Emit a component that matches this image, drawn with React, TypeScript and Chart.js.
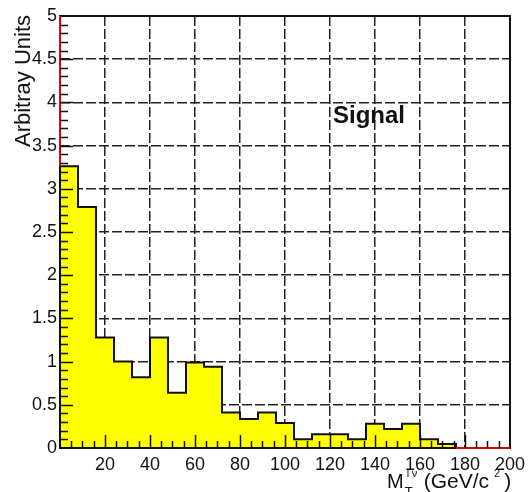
import React, { useEffect, useRef } from "react";
import { Chart, registerables } from "chart.js";

Chart.register(...registerables);

// Histogram bins (lower edges, GeV/c^2), bin width 8
const binLowEdges: number[] = [0, 8, 16, 24, 32, 40, 48, 56, 64, 72, 80, 88, 96, 104, 112, 120, 128, 136, 144, 152, 160, 168, 176, 184, 192];
const binUpperLimit = 200;
// Signal contents (arbitrary units)
const signalValues: number[] = [3.26, 2.79, 1.28, 1.0, 0.82, 1.28, 0.64, 0.99, 0.94, 0.41, 0.335, 0.41, 0.29, 0.1, 0.16, 0.16, 0.1, 0.28, 0.22, 0.28, 0.1, 0.045, 0, 0, 0];

const xMin = 0;
const xMax = 200;
const xMajorStep = 20;
const xMinorStep = 5;
const yMin = 0;
const yMax = 5;
const yMajorStep = 0.5;
const yMinorStep = 0.1;

const yTitle = "Arbitray Units";
const labelText = "Signal";

const FONT = "'Liberation Sans', Arial, Helvetica, sans-serif";
const TEXT = "#111";

export default function App() {
  const ref = useRef<HTMLCanvasElement | null>(null);

  useEffect(() => {
    const canvas = ref.current;
    if (!canvas) return;

    const points = binLowEdges.map((x, i) => ({ x, y: signalValues[i] }));
    points.push({ x: binUpperLimit, y: signalValues[signalValues.length - 1] });

    const overlay = {
      id: "rootStyle",
      afterDraw(chart: any) {
        const { ctx, chartArea } = chart;
        const xs = chart.scales.x;
        const ys = chart.scales.y;
        const { left, right, top, bottom } = chartArea;
        ctx.save();

        // frame
        ctx.strokeStyle = "#111";
        ctx.lineWidth = 2;
        ctx.setLineDash([]);
        ctx.strokeRect(left, top, right - left, bottom - top);

        // red parts (empty histogram outline)
        ctx.strokeStyle = "#e00000";
        ctx.lineWidth = 2;
        ctx.beginPath();
        ctx.moveTo(left, top);
        ctx.lineTo(left, ys.getPixelForValue(signalValues[0]));
        ctx.stroke();
        let firstEmpty = -1;
        for (let i = signalValues.length - 1; i >= 0; i--) {
          if (signalValues[i] === 0) firstEmpty = i; else break;
        }
        if (firstEmpty >= 0) {
          ctx.beginPath();
          ctx.moveTo(xs.getPixelForValue(binLowEdges[firstEmpty]), bottom);
          ctx.lineTo(right, bottom);
          ctx.stroke();
        }

        // inside ticks
        ctx.strokeStyle = "#111";
        ctx.lineWidth = 1.5;
        ctx.beginPath();
        const nY = Math.round((yMax - yMin) / yMinorStep);
        for (let i = 1; i < nY; i++) {
          const v = yMin + i * yMinorStep;
          const py = Math.round(ys.getPixelForValue(v)) + 0.5;
          const major = i % Math.round(yMajorStep / yMinorStep) === 0;
          ctx.moveTo(left, py);
          ctx.lineTo(left + (major ? 13 : 8), py);
        }
        const nX = Math.round((xMax - xMin) / xMinorStep);
        for (let i = 1; i < nX; i++) {
          const v = xMin + i * xMinorStep;
          const px = Math.round(xs.getPixelForValue(v)) + 0.5;
          const major = i % Math.round(xMajorStep / xMinorStep) === 0;
          ctx.moveTo(px, bottom);
          ctx.lineTo(px, bottom - (major ? 13 : 7));
        }
        ctx.stroke();

        // y title
        ctx.fillStyle = TEXT;
        ctx.font = `22px ${FONT}`;
        ctx.save();
        ctx.translate(30, 147);
        ctx.rotate(-Math.PI / 2);
        ctx.textAlign = "left";
        ctx.textBaseline = "alphabetic";
        ctx.fillText(yTitle, 0, 0);
        ctx.restore();

        // x title  M_T^{l nu} (GeV/c^2)
        ctx.textAlign = "left";
        ctx.textBaseline = "alphabetic";
        const base = 488;
        let x = 387;
        ctx.font = `20px ${FONT}`;
        ctx.fillText("M", x, base);
        x += ctx.measureText("M").width + 1;
        ctx.font = `13px ${FONT}`;
        ctx.fillText("T", x, base + 8);
        ctx.font = `11px ${FONT}`;
        ctx.fillText("l", x + 2, base - 11);
        ctx.fillText("\u03bd", x + 7, base - 11);
        x += 19;
        ctx.font = `21px ${FONT}`;
        ctx.fillText("(GeV/c", x, base);
        x += ctx.measureText("(GeV/c").width + 5;
        ctx.font = `11px ${FONT}`;
        ctx.fillText("2", x, base - 11);
        x += ctx.measureText("2").width + 4;
        ctx.font = `21px ${FONT}`;
        ctx.fillText(")", x, base);

        // Signal label
        ctx.font = `bold 24px ${FONT}`;
        ctx.fillStyle = "#111";
        ctx.fillText(labelText, 333, 123);

        ctx.restore();
      },
    };

    const chart = new Chart(canvas, {
      type: "line",
      data: {
        datasets: [
          {
            data: points,
            stepped: "before",
            fill: "origin",
            backgroundColor: "#ffff00",
            borderColor: "#111",
            borderWidth: 2,
            pointRadius: 0,
            segment: {
              borderColor: (c: any) =>
                c.p0.parsed.y === 0 && c.p1.parsed.y === 0 ? "#e00000" : "#111",
            },
          } as any,
        ],
      },
      options: {
        animation: false,
        responsive: false,
        devicePixelRatio: 1,
        layout: { padding: { top: 16, right: 16, left: 0, bottom: 0 } },
        plugins: { legend: { display: false }, tooltip: { enabled: false } },
        scales: {
          x: {
            type: "linear",
            min: xMin,
            max: xMax,
            z: 1,
            afterFit: (s: any) => {
              s.height = 44;
            },
            ticks: {
              stepSize: xMajorStep,
              autoSkip: false,
              maxRotation: 0,
              padding: 6,
              color: TEXT,
              font: { size: 18, family: FONT },
              callback: (v: any) => (Number(v) === 0 ? "" : String(v)),
            },
            grid: { color: "#222", lineWidth: 1.5, drawTicks: false },
            border: { display: false, dash: [10, 3] },
          },
          y: {
            type: "linear",
            min: yMin,
            max: yMax,
            z: 1,
            afterFit: (s: any) => {
              s.width = 60;
            },
            ticks: {
              stepSize: yMajorStep,
              padding: 3,
              color: TEXT,
              font: { size: 18, family: FONT },
              callback: (v: any) => String(Math.round(Number(v) * 10) / 10),
            },
            grid: { color: "#222", lineWidth: 1.5, drawTicks: false },
            border: { display: false, dash: [10, 3] },
          },
        },
      },
      plugins: [overlay],
    } as any);

    return () => chart.destroy();
  }, []);

  return (
    <div style={{ position: "fixed", left: 0, top: 0, width: 531, height: 492, background: "#fff" }}>
      <canvas ref={ref} width={531} height={492} style={{ display: "block" }} />
    </div>
  );
}
